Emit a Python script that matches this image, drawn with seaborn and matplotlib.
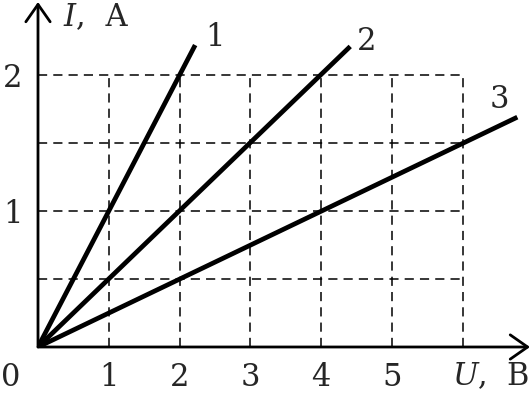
import matplotlib
matplotlib.use("Agg")
import matplotlib.pyplot as plt
import seaborn as sns
import pandas as pd

# Data
line_names = ["1", "2", "3"]
end_voltage = [2.22, 4.41, 6.77]     # U, В at end of each line
end_current = [2.22, 2.21, 1.69]     # I, А at end of each line
x_ticks = [1, 2, 3, 4, 5]
y_ticks = [1, 2]
grid_x = [1, 2, 3, 4, 5, 6]
grid_y = [0.5, 1.0, 1.5, 2.0]

rows = []
for n, u, i in zip(line_names, end_voltage, end_current):
    rows.append({"line": n, "U": 0.0, "I": 0.0})
    rows.append({"line": n, "U": u, "I": i})
df = pd.DataFrame(rows)

sns.set_style("white")
plt.rcParams["font.family"] = ["DejaVu Serif"]
plt.rcParams["mathtext.fontset"] = "dejavuserif"

W, H = 532, 395
fig = plt.figure(figsize=(W / 100, H / 100), dpi=100)
x0, y0 = 38, 347
ux, uy = 70.8, 136.0
xmax = (530 - x0) / ux
ymax = (y0 - 2) / uy
ax = fig.add_axes([x0 / W, (H - y0) / H, (530 - x0) / W, (y0 - 2) / H])
ax.set_xlim(0, xmax)
ax.set_ylim(0, ymax)
for s in ax.spines.values():
    s.set_visible(False)

# dashed grid
gx_end = grid_x[-1]
gy_end = grid_y[-1]
for gx in grid_x:
    ax.plot([gx, gx], [0, gy_end], color="black", lw=1.1, ls=(0, (6, 4)), zorder=1)
for gy in grid_y:
    ax.plot([0, gx_end], [gy, gy], color="black", lw=1.1, ls=(0, (6, 4)), zorder=1)

sns.lineplot(data=df, x="U", y="I", units="line", estimator=None, color="black",
             lw=3.4, ax=ax, legend=False, zorder=3, solid_capstyle="butt")

# line labels
label_pos = [(215, 38), (367, 41), (499, 100)]
for n, (px, py) in zip(line_names, label_pos):
    ax.text((px - x0) / ux, (y0 - py) / uy, n, fontsize=22, ha="center", va="center")

# axes arrows
arrow = dict(arrowstyle="->,head_length=0.5,head_width=0.35", lw=2.0, color="black",
             shrinkA=0, shrinkB=0, mutation_scale=25)
ax.annotate("", xy=(xmax, 0), xytext=(0, 0), arrowprops=arrow, annotation_clip=False)
ax.annotate("", xy=(0, ymax), xytext=(0, 0), arrowprops=arrow, annotation_clip=False)

ax.set_xticks(x_ticks)
ax.set_xticklabels([str(t) for t in x_ticks], fontsize=22)
ax.set_yticks(y_ticks)
ax.set_yticklabels([str(t) for t in y_ticks], fontsize=22)
ax.tick_params(axis="x", length=0, pad=11)
ax.tick_params(axis="y", length=0, pad=11)
ax.set_xlabel("")
ax.set_ylabel("")

ax.text((11 - x0) / ux, (y0 - 377) / uy, "0", fontsize=22, ha="center", va="center")
ax.text((491 - x0) / ux, (y0 - 377) / uy, r"$\mathit{U}$,  В", fontsize=22, ha="center", va="center")
ax.text((96 - x0) / ux, (y0 - 18) / uy, r"$\mathit{I}$,  А", fontsize=22, ha="center", va="center")

fig.savefig("out.png", dpi=100)
